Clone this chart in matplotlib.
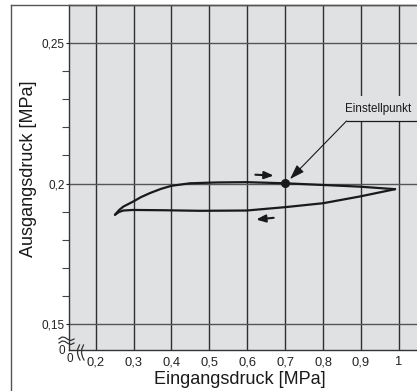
import matplotlib
matplotlib.use('Agg')
import matplotlib.pyplot as plt
from matplotlib.lines import Line2D
from matplotlib.patches import Rectangle

# Hysterese-Schleife Ausgangsdruck ueber Eingangsdruck
upper_x = [0.251, 0.262, 0.273, 0.299, 0.320, 0.343, 0.372, 0.400, 0.449, 0.520, 0.598, 0.700, 0.800, 0.897, 0.990]
upper_y = [0.1889, 0.1906, 0.1918, 0.1936, 0.1952, 0.1966, 0.1981, 0.1992, 0.2001, 0.2004, 0.2005, 0.2001, 0.1995, 0.1989, 0.1980]
lower_x = [0.990, 0.897, 0.800, 0.700, 0.598, 0.475, 0.380, 0.299, 0.273, 0.262, 0.251]
lower_y = [0.1980, 0.1954, 0.1930, 0.1916, 0.1904, 0.1903, 0.1905, 0.1906, 0.1904, 0.1899, 0.1889]

set_point = (0.70, 0.2001)

x_ticks = [0.2, 0.3, 0.4, 0.5, 0.6, 0.7, 0.8, 0.9, 1.0]
x_labels = ['0,2', '0,3', '0,4', '0,5', '0,6', '0,7', '0,8', '0,9', '1']
y_ticks = [0.15, 0.2, 0.25]
y_labels = ['0,15', '0,2', '0,25']
y_minor = [0.16, 0.17, 0.18, 0.19, 0.21, 0.22, 0.23, 0.24]

W, H = 417, 391
plt.rcParams['font.family'] = ['Liberation Sans', 'DejaVu Sans']


def px(x, y):
    # Pixel (von oben links) -> Figurkoordinaten
    return x / W, 1 - y / H


fig = plt.figure(figsize=(W / 100, H / 100), dpi=100)
ax = fig.add_axes([69 / W, 1 - 349.5 / H, 1 - 69 / W, (349.5 - 5) / H])
ax.set_facecolor('#e0e1e3')
ax.set_xlim(0.1296, 1.0478)
ax.set_ylim(0.1409, 0.2636)

# Raster
for xv in x_ticks:
    ax.axvline(xv, color='#2f2f2f', lw=1.0, zorder=1)
for yv in y_ticks:
    ax.axhline(yv, color='#555555', lw=1.0, zorder=1)

ax.set_xticks(x_ticks)
ax.set_xticklabels(x_labels, fontsize=9.3)
ax.tick_params(axis='x', length=0, pad=5, colors='#222222')
ax.set_yticks(y_ticks)
ax.set_yticklabels(y_labels, fontsize=8.5)
ax.set_yticks(y_minor, minor=True)
ax.tick_params(axis='y', which='major', length=2, pad=1, width=0.8, colors='#222222')
ax.tick_params(axis='y', which='minor', length=5, width=0.8, colors='#444444')

for side in ['left', 'bottom', 'top']:
    ax.spines[side].set_color('#333333')
    ax.spines[side].set_linewidth(1.0)
ax.spines['right'].set_visible(False)

# Kurve
ax.plot(upper_x, upper_y, color='#1a1a1a', lw=1.6, zorder=3, solid_capstyle='round')
ax.plot(lower_x, lower_y, color='#1a1a1a', lw=1.6, zorder=3, solid_capstyle='round')
ax.plot([set_point[0]], [set_point[1]], 'o', color='#1a1a1a', ms=5.5, zorder=4)

# Richtungspfeile
arrow_kw = dict(arrowstyle='-|>,head_length=0.55,head_width=0.22', color='#1a1a1a', lw=1.5)
ax.annotate('', xy=(0.677, 0.2028), xytext=(0.614, 0.2032), arrowprops=arrow_kw, zorder=4)
ax.annotate('', xy=(0.616, 0.1871), xytext=(0.677, 0.1879), arrowprops=arrow_kw, zorder=4)

# Einstellpunkt-Beschriftung
ax.add_patch(Rectangle((0.855, 0.2223), 0.25, 0.0090, facecolor='#e0e1e3',
                       edgecolor='none', zorder=1.5))
ax.plot([0.862, 1.06], [0.2223, 0.2223], color='#1a1a1a', lw=0.9, zorder=3)
ax.annotate('', xy=(0.7127, 0.2016), xytext=(0.862, 0.2223),
            arrowprops=dict(arrowstyle='-|>,head_length=0.9,head_width=0.3',
                            color='#1a1a1a', lw=0.8, shrinkA=0, shrinkB=0), zorder=4)
ax.text(0.946, 0.2254, 'Einstellpunkt', ha='center', va='baseline', fontsize=8.4,
        color='#1a1a1a', zorder=5)

# Achsentitel
fig.text(*px(29, 168.5), 'Ausgangsdruck [MPa]', rotation=90,
         ha='center', va='center', fontsize=13, color='#1a1a1a')
fig.text(*px(240, 379.5), 'Eingangsdruck [MPa]',
         ha='center', va='center', fontsize=13, color='#1a1a1a')

# Nullpunkte
fig.text(*px(62, 350.5), '0', ha='center', va='center', fontsize=8.5, color='#222222')
fig.text(*px(70, 359.5), '0', ha='center', va='center', fontsize=8.5, color='#222222')

# Achsbruch-Zeichen
brk_kw = dict(color='#333333', lw=0.9, transform=fig.transFigure)
for dy in (0, 4):
    xs = [59, 62, 65, 68, 71, 74]
    ys = [339 + dy, 337 + dy, 337.5 + dy, 339.5 + dy, 340.5 + dy, 339 + dy]
    pts = [px(a, b) for a, b in zip(xs, ys)]
    fig.add_artist(Line2D([p[0] for p in pts], [p[1] for p in pts], **brk_kw))
for dx in (0, 4):
    xs = [79.5 + dx, 77.8 + dx, 77.5 + dx, 78.5 + dx, 80 + dx]
    ys = [345, 349, 353, 357, 360]
    pts = [px(a, b) for a, b in zip(xs, ys)]
    fig.add_artist(Line2D([p[0] for p in pts], [p[1] for p in pts], **brk_kw))

# Rahmen
frame_kw = dict(color='#555555', lw=1.0, transform=fig.transFigure)
fig.add_artist(Line2D([11 / W, 11 / W], [0, 1 - 5 / H], **frame_kw))
fig.add_artist(Line2D([11 / W, 1], [1 - 5 / H, 1 - 5 / H], **frame_kw))

fig.savefig('out.png', dpi=100)
